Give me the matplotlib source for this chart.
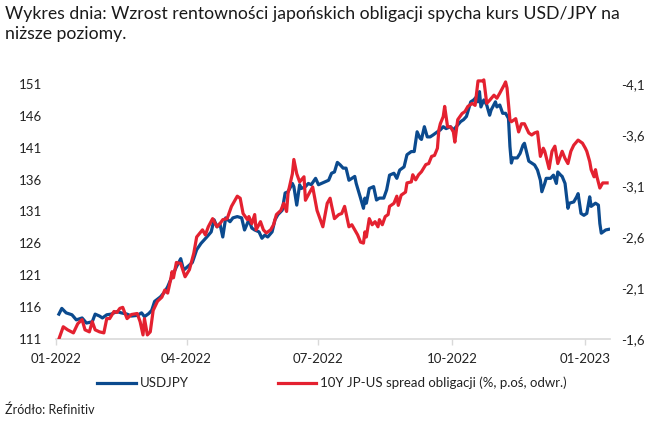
import pandas as pd
import matplotlib
matplotlib.use('Agg')
import matplotlib.pyplot as plt
import matplotlib.dates as mdates
from matplotlib.ticker import FixedLocator, FuncFormatter

plt.rcParams['font.family'] = ['Lato', 'DejaVu Sans']

# USD/JPY (lewa oś)
usd_dates = ['2022-01-03', '2022-01-05', '2022-01-08', '2022-01-12', '2022-01-15', '2022-01-19',
             '2022-01-22', '2022-01-26', '2022-01-28', '2022-01-31', '2022-02-02', '2022-02-05',
             '2022-02-08', '2022-02-12', '2022-02-15', '2022-02-19', '2022-02-22', '2022-02-26',
             '2022-03-01', '2022-03-03', '2022-03-06', '2022-03-08', '2022-03-10', '2022-03-14',
             '2022-03-17', '2022-03-19', '2022-03-22', '2022-03-25', '2022-03-28', '2022-03-30',
             '2022-04-01', '2022-04-05', '2022-04-08', '2022-04-11', '2022-04-15', '2022-04-18',
             '2022-04-20', '2022-04-22', '2022-04-24', '2022-04-26', '2022-04-28', '2022-05-01',
             '2022-05-03', '2022-05-06', '2022-05-09', '2022-05-11', '2022-05-14', '2022-05-16',
             '2022-05-18', '2022-05-21', '2022-05-23', '2022-05-25', '2022-05-27', '2022-05-30',
             '2022-06-01', '2022-06-03', '2022-06-06', '2022-06-08', '2022-06-10', '2022-06-13',
             '2022-06-14', '2022-06-16', '2022-06-18', '2022-06-19', '2022-06-22', '2022-06-24',
             '2022-06-26', '2022-06-29', '2022-07-01', '2022-07-03', '2022-07-06', '2022-07-08',
             '2022-07-10', '2022-07-12', '2022-07-14', '2022-07-16', '2022-07-18', '2022-07-20',
             '2022-07-22', '2022-07-24', '2022-07-26', '2022-07-27', '2022-07-30', '2022-08-01',
             '2022-08-02', '2022-08-03', '2022-08-05', '2022-08-08', '2022-08-10', '2022-08-12',
             '2022-08-15', '2022-08-17', '2022-08-19', '2022-08-22', '2022-08-24', '2022-08-26',
             '2022-08-29', '2022-08-31', '2022-09-03', '2022-09-05', '2022-09-07', '2022-09-09',
             '2022-09-10', '2022-09-12', '2022-09-14', '2022-09-16', '2022-09-18', '2022-09-21',
             '2022-09-23', '2022-09-25', '2022-09-27', '2022-09-30', '2022-10-02', '2022-10-04',
             '2022-10-07', '2022-10-09', '2022-10-11', '2022-10-14', '2022-10-16', '2022-10-18',
             '2022-10-19', '2022-10-20', '2022-10-21', '2022-10-23', '2022-10-25', '2022-10-27',
             '2022-10-28', '2022-10-31', '2022-11-01', '2022-11-03', '2022-11-05', '2022-11-07',
             '2022-11-09', '2022-11-10', '2022-11-11', '2022-11-12', '2022-11-15', '2022-11-17',
             '2022-11-19', '2022-11-20', '2022-11-23', '2022-11-25', '2022-11-27', '2022-11-29',
             '2022-12-01', '2022-12-02', '2022-12-04', '2022-12-05', '2022-12-08', '2022-12-10',
             '2022-12-12', '2022-12-13', '2022-12-15', '2022-12-16', '2022-12-18', '2022-12-20',
             '2022-12-21', '2022-12-24', '2022-12-26', '2022-12-27', '2022-12-29', '2022-12-31',
             '2023-01-02', '2023-01-04', '2023-01-05', '2023-01-08', '2023-01-10', '2023-01-11',
             '2023-01-12', '2023-01-15', '2023-01-17']
usd_vals = [114.9, 115.8, 115.1, 114.8, 114.0, 114.3, 113.5, 113.7, 114.9, 114.6, 114.3, 114.8,
            114.9, 115.3, 115.1, 114.9, 114.6, 114.7, 115.1, 114.5, 115.0, 115.5, 116.9, 117.6,
            118.4, 119.2, 120.8, 122.3, 123.6, 121.8, 122.2, 123.0, 125.0, 126.0, 127.0, 127.8,
            129.7, 128.6, 129.1, 127.0, 130.0, 129.4, 130.0, 130.2, 130.0, 128.1, 129.7, 128.4,
            128.1, 127.8, 126.8, 127.3, 127.0, 127.8, 129.7, 130.5, 131.2, 133.9, 134.1, 135.4,
            134.9, 132.0, 135.2, 134.6, 134.9, 135.4, 135.2, 136.2, 135.2, 135.4, 135.7, 135.9,
            137.0, 137.2, 138.7, 138.3, 137.8, 137.8, 135.9, 136.2, 136.5, 135.4, 133.1, 131.5,
            133.1, 132.3, 134.6, 134.9, 132.8, 133.1, 133.1, 134.4, 136.7, 137.0, 136.2, 137.5,
            138.0, 139.9, 140.4, 140.4, 143.5, 142.5, 142.3, 144.3, 142.7, 142.7, 143.0, 143.5,
            143.8, 144.3, 144.0, 144.3, 143.8, 144.3, 145.1, 145.4, 145.9, 148.2, 148.5, 149.0,
            148.2, 149.8, 147.4, 148.5, 147.7, 146.1, 146.9, 148.2, 147.4, 147.7, 146.4, 146.4,
            145.6, 141.2, 138.6, 139.4, 139.4, 140.1, 141.4, 141.7, 138.9, 138.6, 138.3, 137.5,
            135.9, 134.1, 135.4, 136.2, 136.2, 136.7, 135.4, 137.2, 136.7, 136.5, 135.4, 131.5,
            132.3, 132.5, 133.3, 133.8, 130.7, 130.4, 130.7, 133.3, 131.8, 132.3, 132.0, 129.1,
            127.6, 128.1, 128.2]

# 10Y JP-US spread (prawa oś, odwrócona)
spread_dates = ['2022-01-03', '2022-01-06', '2022-01-09', '2022-01-13', '2022-01-16', '2022-01-19',
                '2022-01-21', '2022-01-24', '2022-01-26', '2022-01-28', '2022-01-31', '2022-02-03',
                '2022-02-05', '2022-02-07', '2022-02-10', '2022-02-12', '2022-02-14', '2022-02-16',
                '2022-02-19', '2022-02-22', '2022-02-26', '2022-02-28', '2022-03-02', '2022-03-03',
                '2022-03-05', '2022-03-07', '2022-03-09', '2022-03-12', '2022-03-15', '2022-03-17',
                '2022-03-19', '2022-03-21', '2022-03-22', '2022-03-23', '2022-03-25', '2022-03-28',
                '2022-03-31', '2022-04-03', '2022-04-06', '2022-04-08', '2022-04-12', '2022-04-14',
                '2022-04-16', '2022-04-19', '2022-04-22', '2022-04-24', '2022-04-26', '2022-04-29',
                '2022-05-02', '2022-05-06', '2022-05-08', '2022-05-10', '2022-05-13', '2022-05-14',
                '2022-05-16', '2022-05-18', '2022-05-19', '2022-05-22', '2022-05-24', '2022-05-26',
                '2022-05-29', '2022-05-31', '2022-06-02', '2022-06-05', '2022-06-07', '2022-06-09',
                '2022-06-10', '2022-06-13', '2022-06-14', '2022-06-16', '2022-06-18', '2022-06-21',
                '2022-06-22', '2022-06-25', '2022-06-27', '2022-06-30', '2022-07-02', '2022-07-04',
                '2022-07-07', '2022-07-09', '2022-07-10', '2022-07-12', '2022-07-15', '2022-07-17',
                '2022-07-19', '2022-07-22', '2022-07-24', '2022-07-26', '2022-07-28', '2022-07-30',
                '2022-08-01', '2022-08-02', '2022-08-03', '2022-08-05', '2022-08-07', '2022-08-09',
                '2022-08-11', '2022-08-12', '2022-08-14', '2022-08-16', '2022-08-18', '2022-08-19',
                '2022-08-22', '2022-08-24', '2022-08-25', '2022-08-27', '2022-08-30', '2022-08-31',
                '2022-09-03', '2022-09-04', '2022-09-06', '2022-09-08', '2022-09-10', '2022-09-13',
                '2022-09-15', '2022-09-17', '2022-09-19', '2022-09-21', '2022-09-22', '2022-09-23',
                '2022-09-25', '2022-09-26', '2022-09-28', '2022-09-30', '2022-10-02', '2022-10-03',
                '2022-10-05', '2022-10-08', '2022-10-10', '2022-10-12', '2022-10-15', '2022-10-17',
                '2022-10-18', '2022-10-19', '2022-10-22', '2022-10-23', '2022-10-25', '2022-10-27',
                '2022-10-30', '2022-11-01', '2022-11-03', '2022-11-06', '2022-11-07', '2022-11-08',
                '2022-11-10', '2022-11-11', '2022-11-14', '2022-11-16', '2022-11-18', '2022-11-20',
                '2022-11-23', '2022-11-25', '2022-11-27', '2022-11-29', '2022-12-01', '2022-12-03',
                '2022-12-04', '2022-12-07', '2022-12-09', '2022-12-11', '2022-12-13', '2022-12-16',
                '2022-12-18', '2022-12-20', '2022-12-22', '2022-12-24', '2022-12-27', '2022-12-30',
                '2023-01-01', '2023-01-02', '2023-01-04', '2023-01-05', '2023-01-07', '2023-01-08',
                '2023-01-09', '2023-01-11', '2023-01-13', '2023-01-16']
spread_vals = [-1.60, -1.72, -1.69, -1.66, -1.75, -1.79, -1.69, -1.67, -1.77, -1.69, -1.67, -1.66,
               -1.80, -1.80, -1.87, -1.86, -1.90, -1.91, -1.80, -1.84, -1.85, -1.77, -1.64, -1.80,
               -1.64, -1.67, -1.88, -1.97, -2.01, -2.08, -2.05, -2.18, -2.26, -2.20, -2.35, -2.34,
               -2.21, -2.28, -2.44, -2.60, -2.67, -2.62, -2.70, -2.78, -2.70, -2.73, -2.77, -2.78,
               -2.90, -3.00, -2.98, -2.83, -2.77, -2.80, -2.73, -2.82, -2.67, -2.75, -2.67, -2.64,
               -2.67, -2.72, -2.82, -2.86, -2.93, -2.85, -3.03, -3.22, -3.36, -3.22, -3.14, -3.19,
               -2.96, -3.04, -3.09, -2.86, -2.78, -2.70, -2.93, -2.98, -2.91, -2.78, -2.82, -2.83,
               -2.90, -2.70, -2.72, -2.67, -2.62, -2.55, -2.54, -2.65, -2.60, -2.78, -2.72, -2.75,
               -2.70, -2.77, -2.72, -2.80, -2.82, -2.90, -2.93, -3.00, -2.91, -3.01, -3.04, -3.13,
               -3.14, -3.21, -3.16, -3.21, -3.24, -3.31, -3.32, -3.39, -3.40, -3.47, -3.65, -3.71,
               -3.78, -3.88, -3.68, -3.68, -3.63, -3.53, -3.75, -3.81, -3.83, -3.88, -3.91, -3.89,
               -4.01, -4.13, -4.13, -4.14, -3.91, -3.94, -3.99, -3.96, -4.01, -4.09, -4.12, -4.06,
               -3.75, -3.73, -3.76, -3.63, -3.71, -3.71, -3.62, -3.60, -3.62, -3.63, -3.39, -3.47,
               -3.44, -3.27, -3.44, -3.49, -3.32, -3.44, -3.37, -3.32, -3.44, -3.50, -3.55, -3.52,
               -3.47, -3.44, -3.34, -3.26, -3.19, -3.26, -3.19, -3.08, -3.13, -3.13]

left_ticks = [111, 116, 121, 126, 131, 136, 141, 146, 151]
right_ticks = [-4.1, -3.6, -3.1, -2.6, -2.1, -1.6]
x_ticks = ['2022-01-01', '2022-04-01', '2022-07-01', '2022-10-01', '2023-01-01']

blue = '#0b4a8e'
red = '#e42130'

fig = plt.figure(figsize=(6.5, 4.25), dpi=100)
ax = fig.add_axes([56 / 650, 1 - 339 / 425, 554 / 650, 261.4 / 425])
ax2 = ax.twinx()

l1, = ax.plot(pd.to_datetime(usd_dates), usd_vals, color=blue, lw=2.3, label='USDJPY')
l2, = ax2.plot(pd.to_datetime(spread_dates), spread_vals, color=red, lw=2.3,
               label='10Y JP-US spread obligacji (%, p.oś, odwr.)')

ax.set_xlim(pd.Timestamp('2022-01-01'), pd.Timestamp('2023-01-18'))
ax.set_ylim(111, 152)
ax2.set_ylim(-1.6, -1.6 - 41 * 2.5 / 40)

ax.yaxis.set_major_locator(FixedLocator(left_ticks))
ax2.yaxis.set_major_locator(FixedLocator(right_ticks))
ax2.yaxis.set_major_formatter(FuncFormatter(lambda v, p: f'{v:.1f}'.replace('.', ',')))
ax.set_xticks(pd.to_datetime(x_ticks))
ax.xaxis.set_major_formatter(mdates.DateFormatter('%m-%Y'))

for a in (ax, ax2):
    for s in a.spines.values():
        s.set_visible(False)
ax.spines['bottom'].set_visible(True)
ax.spines['bottom'].set_color('#d9d9d9')
ax.spines['bottom'].set_linewidth(1.2)

ax.tick_params(axis='y', length=0, pad=10, labelsize=9.5, labelcolor='#222222')
ax2.tick_params(axis='y', length=0, pad=8, labelsize=9.5, labelcolor='#222222')
ax.tick_params(axis='x', length=4, width=1, color='#d9d9d9', pad=6, labelsize=9.5,
               labelcolor='#222222')

fig.text(0.008, 0.985, 'Wykres dnia: Wzrost rentowności japońskich obligacji spycha kurs USD/JPY na\nniższe poziomy.',
         ha='left', va='top', fontsize=12.7, color='#1a1a1a', linespacing=1.25)

fig.legend(handles=[l1, l2], loc='center', bbox_to_anchor=(0.511, 0.099), ncol=2, frameon=False,
           fontsize=9.5, handlelength=2.95, handletextpad=0.3, columnspacing=6.7,
           labelcolor='#222222')

fig.text(0.008, 0.035, 'Źródło: Refinitiv', ha='left', va='center', fontsize=9, color='#222222')

fig.savefig('out.png', dpi=100)
